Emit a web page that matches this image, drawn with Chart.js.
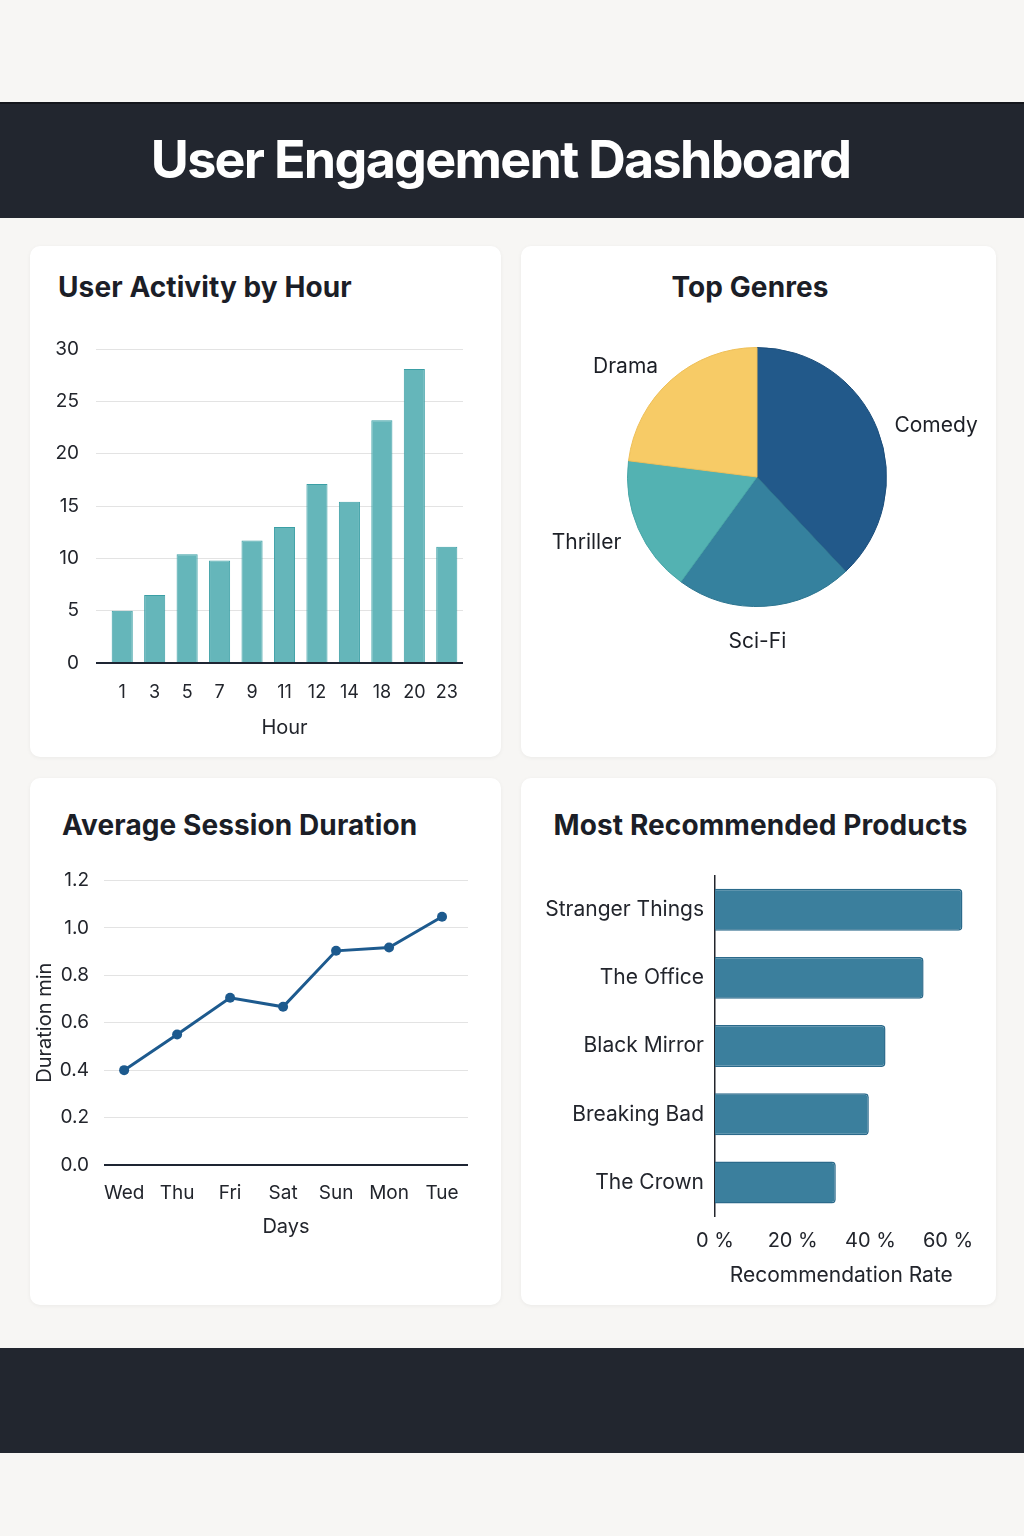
<!DOCTYPE html>
<html><head><meta charset="utf-8">
<script src="https://cdn.jsdelivr.net/npm/chart.js@4.4.0/dist/chart.umd.min.js"></script>
<style>
html,body{margin:0;padding:0;background:#f7f6f4;}
body{width:1024px;height:1536px;position:relative;overflow:hidden;font-family:Inter,"Noto Sans",sans-serif;color:#1c1f26;}
.band{position:absolute;left:0;width:1024px;background:#22262f;}
.card{position:absolute;background:#fff;border-radius:10px;box-shadow:0 1px 4px rgba(0,0,0,0.05);}
.ctitle{position:absolute;font-weight:700;font-size:28px;line-height:40px;letter-spacing:0.1px;white-space:nowrap;color:#1b1e27;}
.main{position:absolute;left:0;top:130px;width:1001px;height:60px;line-height:60px;text-align:center;color:#fff;font-weight:700;font-size:52px;letter-spacing:-1.7px;}
canvas{position:absolute;}
</style></head>
<body>
<div class="band" style="top:102px;height:114px;border-top:2px solid #14161c"></div>
<div class="main">User Engagement Dashboard</div>
<div class="band" style="top:1348px;height:105px;"></div>

<div class="card" style="left:30px;top:246px;width:471px;height:511px"></div>
<div class="card" style="left:521px;top:246px;width:475px;height:511px"></div>
<div class="card" style="left:30px;top:778px;width:471px;height:527px"></div>
<div class="card" style="left:521px;top:778px;width:475px;height:527px"></div>

<div class="ctitle" style="left:58px;top:267px">User Activity by Hour</div>
<div class="ctitle" style="left:521px;width:458px;text-align:center;top:267px">Top Genres</div>
<div class="ctitle" style="left:62px;top:805px">Average Session Duration</div>
<div class="ctitle" style="left:521px;width:479px;text-align:center;top:805px">Most Recommended Products</div>

<canvas id="c1" width="471" height="430" style="left:30px;top:320px"></canvas>
<canvas id="c2" width="475" height="420" style="left:521px;top:320px"></canvas>
<canvas id="c3" width="471" height="406" style="left:30px;top:854px"></canvas>
<canvas id="c4" width="475" height="448" style="left:521px;top:852px"></canvas>

<script>
// ---- data ----
const hours = ['1','3','5','7','9','11','12','14','18','20','23'];
const activity = [5.0, 6.5, 10.4, 9.8, 11.7, 13.0, 17.1, 15.4, 23.2, 28.1, 11.1];
const activityTicksMax = 30;

const genres = ['Comedy','Sci-Fi','Thriller','Drama'];
const genreShares = [38, 22, 17, 23];

const days = ['Wed','Thu','Fri','Sat','Sun','Mon','Tue'];
const sessionMinutes = [0.40, 0.55, 0.705, 0.667, 0.903, 0.917, 1.047];

const products = ['Stranger Things','The Office','Black Mirror','Breaking Bad','The Crown'];
const recRates = [63.7, 53.7, 43.9, 39.6, 31.1];
const rateTicks = [0, 20, 40, 60];

// ---- defaults ----
Chart.defaults.font.family = 'Inter, "Noto Sans", sans-serif';
Chart.defaults.font.size = 18;
Chart.defaults.color = '#22252c';
Chart.defaults.animation = false;
Chart.defaults.responsive = false;
Chart.defaults.plugins.legend.display = false;
Chart.defaults.plugins.tooltip.enabled = false;

const zeroGrid = {
  color: c => (c.tick && c.tick.value === 0) ? '#1e2533' : '#e3e3e3',
  lineWidth: c => (c.tick && c.tick.value === 0) ? 2 : 1
};

// ---- chart 1: bars ----
new Chart(document.getElementById('c1'), {
  type: 'bar',
  data: { labels: hours, datasets: [{
    data: activity, backgroundColor: '#65b6ba', borderColor: '#3b9fa5', borderWidth: 1,
    barPercentage: 0.65, categoryPercentage: 1.0
  }]},
  options: {
    layout: { padding: { left: 0, right: 38, top: 29, bottom: 0 } },
    scales: {
      x: {
        grid: { display: false, drawTicks: false }, border: { display: false },
        ticks: { autoSkip: false, maxRotation: 0, padding: 19, font: { size: 18 } },
        title: { display: true, text: 'Hour', font: { size: 20 }, padding: { top: 0, bottom: 10 } },
        afterFit: s => { s.height = 87; }
      },
      y: {
        min: 0, max: activityTicksMax,
        ticks: { stepSize: 5, padding: 17, font: { size: 19 } },
        grid: Object.assign({ drawTicks: true, tickLength: 10 }, zeroGrid),
        border: { display: false },
        afterFit: s => { s.width = 76; }
      }
    }
  }
});

// ---- chart 2: pie ----
const pieLabels = {
  id: 'pieLabels',
  afterDatasetsDraw(chart) {
    const ctx = chart.ctx;
    const meta = chart.getDatasetMeta(0);
    ctx.save();
    ctx.font = '21px Inter, "Noto Sans", sans-serif';
    ctx.fillStyle = '#1c1f26';
    ctx.textBaseline = 'middle';
    meta.data.forEach((arc, i) => {
      const p = arc.getProps(['x','y','startAngle','endAngle','outerRadius'], true);
      const mid = (p.startAngle + p.endAngle) / 2;
      const c = Math.cos(mid), s = Math.sin(mid);
      let x, y;
      if (Math.abs(c) > 0.3) {
        const d = p.outerRadius + 14;
        x = p.x + c * d + (c > 0 ? 4 : -4);
        y = p.y + s * d + 5 + 10 * s;
        ctx.textAlign = c > 0 ? 'left' : 'right';
      } else {
        const d = p.outerRadius + 36;
        x = p.x + c * d - 10; y = p.y + s * d;
        ctx.textAlign = 'center';
      }
      ctx.fillText(chart.data.labels[i], x, y);
    });
    ctx.restore();
  }
};
new Chart(document.getElementById('c2'), {
  type: 'pie',
  data: { labels: genres, datasets: [{
    data: genreShares,
    backgroundColor: ['#22598a', '#35819e', '#53b2b2', '#f7cb66'],
    borderColor: ['#1b4d7a', '#2d7590', '#48a6a8', '#eebf58'],
    borderWidth: 1
  }]},
  options: {
    layout: { padding: { left: 106, right: 109, top: 27, bottom: 133 } }
  },
  plugins: [pieLabels]
});

// ---- chart 3: line ----
new Chart(document.getElementById('c3'), {
  type: 'line',
  data: { datasets: [{
    data: sessionMinutes.map((v, i) => ({ x: i, y: v })),
    borderColor: '#1d5a8e', backgroundColor: '#1d5a8e', borderWidth: 3,
    pointRadius: 5, pointBackgroundColor: '#1d5a8e', pointBorderWidth: 0, tension: 0
  }]},
  options: {
    layout: { padding: { left: 0, right: 33, top: 10, bottom: 0 } },
    scales: {
      x: {
        type: 'linear', min: -0.38, max: 6.49,
        afterBuildTicks: s => { s.ticks = days.map((d, i) => ({ value: i })); },
        ticks: { callback: v => days[v], autoSkip: false, maxRotation: 0, padding: 17, font: { size: 19 } },
        grid: { display: false, drawTicks: false }, border: { display: false },
        title: { display: true, text: 'Days', font: { size: 20 }, padding: { top: 0, bottom: 21 } },
        afterFit: s => { s.height = 95; }
      },
      y: {
        min: 0, max: 1.2,
        ticks: { stepSize: 0.2, padding: 15, font: { size: 19 }, callback: v => Number(v).toFixed(1) },
        grid: Object.assign({ drawTicks: false }, zeroGrid),
        border: { display: false },
        title: { display: true, text: 'Duration min', font: { size: 20 }, padding: { top: 3, bottom: 0 } },
        afterFit: s => { s.width = 74; }
      }
    }
  }
});

// ---- chart 4: horizontal bars ----
new Chart(document.getElementById('c4'), {
  type: 'bar',
  data: { labels: products, datasets: [{
    data: recRates, backgroundColor: '#3b7f9d', borderColor: '#2b6a8b', borderWidth: 1.5,
    borderRadius: 4, borderSkipped: 'start', barPercentage: 0.615, categoryPercentage: 1.0
  }]},
  options: {
    indexAxis: 'y',
    layout: { padding: { left: 0, right: 28.5, top: 7, bottom: 0 } },
    scales: {
      x: {
        min: 0, max: 65,
        afterBuildTicks: s => { s.ticks = rateTicks.map(v => ({ value: v })); },
        ticks: { callback: v => v + ' %', padding: 12, font: { size: 20 }, maxRotation: 0 },
        grid: { display: false, drawTicks: false }, border: { display: false },
        title: { display: true, text: 'Recommendation Rate', font: { size: 21 }, padding: { top: 0, bottom: 12 } },
        afterFit: s => { s.height = 83.5; }
      },
      y: {
        ticks: { padding: 11, font: { size: 21 } },
        grid: { display: false, drawTicks: false },
        border: { display: true, color: '#22252c', width: 1.5 },
        afterFit: s => { s.width = 194; }
      }
    }
  }
});
</script>
</body></html>
